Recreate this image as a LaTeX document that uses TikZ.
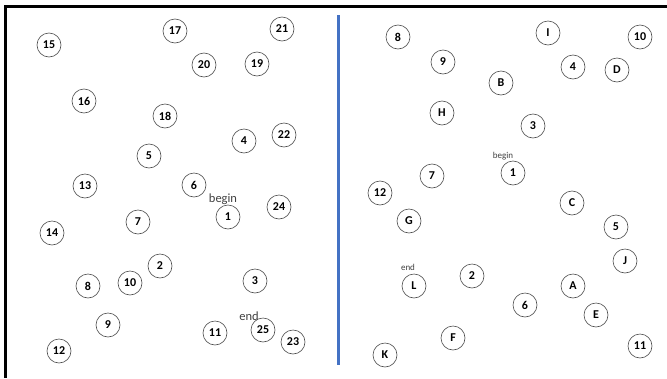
\documentclass[tikz,border=0pt]{standalone}
\usepackage{fontspec}
\setmainfont{Carlito}
\definecolor{officeblue}{HTML}{4472C4}
\definecolor{labelgray}{HTML}{404040}
\tikzset{
  nd/.style={circle,draw=black!70,line width=0.6pt,minimum size=24pt,inner sep=0pt,font=\fontsize{12}{12}\selectfont\bfseries},
  lblbig/.style={inner sep=0pt,text=labelgray,font=\fontsize{12.5}{13}\selectfont},
  lblsmall/.style={inner sep=0pt,text=labelgray,font=\fontsize{9}{10}\selectfont},
}
\begin{document}
\begin{tikzpicture}[x=1pt,y=-1pt]
\useasboundingbox (0,0) rectangle (667,378);
\fill[white] (0,0) rectangle (667,378);
% frame
\coordinate (tl) at (5,6);
\coordinate (tr) at (667,6);
\coordinate (bl) at (5,378);
\draw[line width=3pt] (tr) -- (tl) -- (bl);
% divider
\coordinate (dtop) at (338.8,15);
\coordinate (dbot) at (338.8,365);
\draw[officeblue,line width=3pt] (dtop) -- (dbot);
% left graph
\node[nd] (L15) at (49,45) {15};
\node[nd] (L17) at (175,31) {17};
\node[nd] (L21) at (282,29) {21};
\node[nd] (L20) at (204,65) {20};
\node[nd] (L19) at (257,64) {19};
\node[nd] (L16) at (84,101) {16};
\node[nd] (L18) at (165,116) {18};
\node[nd] (L4) at (244,141) {4};
\node[nd] (L22) at (284,135) {22};
\node[nd] (L5) at (149,156) {5};
\node[nd] (L13) at (85,186) {13};
\node[nd] (L6) at (194,185) {6};
\node[lblbig] (Lbegin) at (223,199) {begin};
\node[nd] (L1) at (228,217) {1};
\node[nd] (L24) at (279,207) {24};
\node[nd] (L7) at (138,222) {7};
\node[nd] (L14) at (52,233) {14};
\node[nd] (L2) at (160,266) {2};
\node[nd] (L8) at (88,286) {8};
\node[nd] (L10) at (130,283) {10};
\node[nd] (L3) at (255,281) {3};
\node[lblbig] (Lend) at (249,316) {end};
\node[nd] (L25) at (263,330) {25};
\node[nd] (L11) at (215,333) {11};
\node[nd] (L23) at (293,342) {23};
\node[nd] (L9) at (108,325) {9};
\node[nd] (L12) at (59,351) {12};
% right graph
\node[nd] (R8) at (398,37) {8};
\node[nd] (RI) at (548,33) {I};
\node[nd] (R10) at (640,37) {10};
\node[nd] (R9) at (443,62) {9};
\node[nd] (R4) at (573,67) {4};
\node[nd] (RD) at (617,70) {D};
\node[nd] (RB) at (501,83) {B};
\node[nd] (RH) at (442,113) {H};
\node[nd] (R3) at (533,126) {3};
\node[lblsmall] (Rbegin) at (503,156) {begin};
\node[nd] (R1) at (513,173) {1};
\node[nd] (R7) at (432,176) {7};
\node[nd] (R12) at (380,193) {12};
\node[nd] (RC) at (572,203) {C};
\node[nd] (RG) at (409,221) {G};
\node[nd] (R5) at (616,227) {5};
\node[nd] (RJ) at (625,261) {J};
\node[lblsmall] (Rend) at (408,267) {end};
\node[nd] (RL) at (414,286) {L};
\node[nd] (R2) at (472,276) {2};
\node[nd] (RA) at (573,286) {A};
\node[nd] (R6) at (525,305) {6};
\node[nd] (RE) at (596,315) {E};
\node[nd] (RF) at (453,338) {F};
\node[nd] (R11) at (640,346) {11};
\node[nd] (RK) at (385,355) {K};
\end{tikzpicture}
\end{document}
